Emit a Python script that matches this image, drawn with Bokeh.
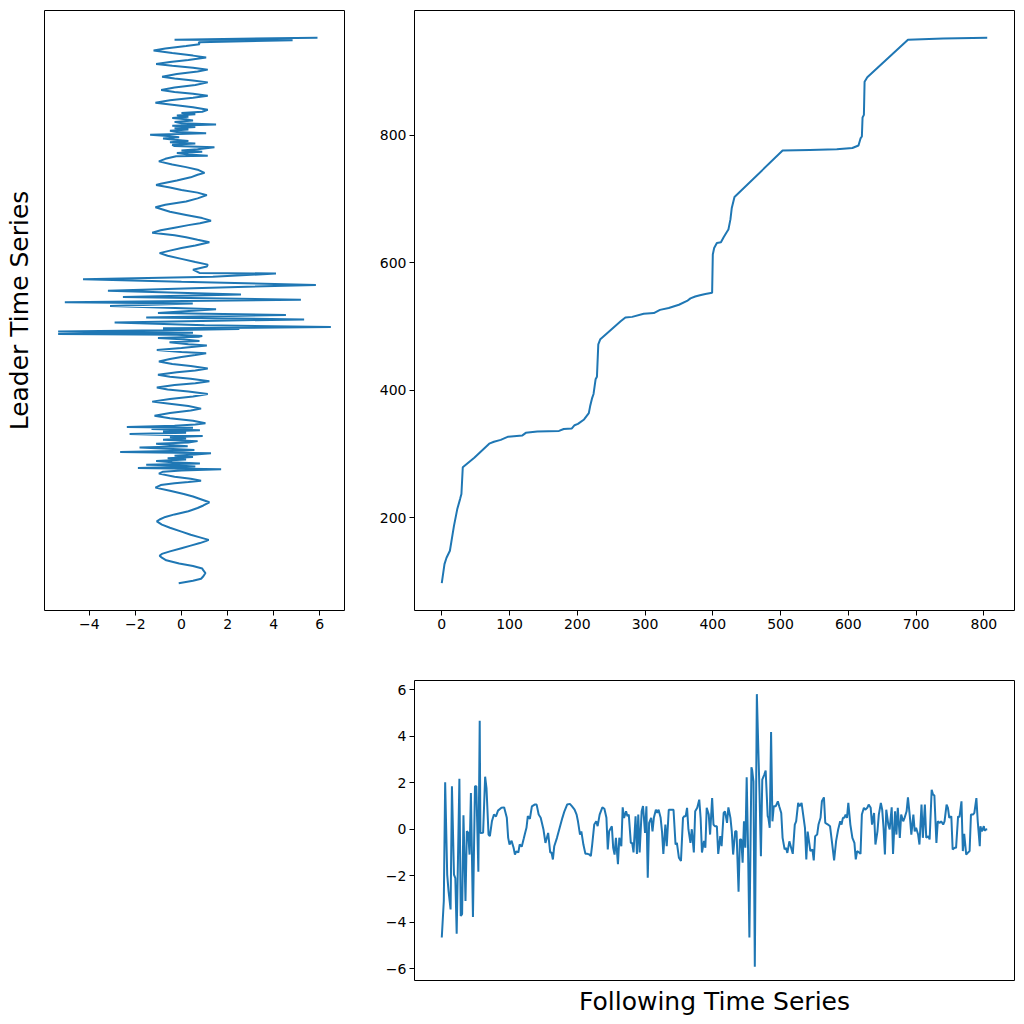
from bokeh.plotting import figure
from bokeh.layouts import column, row
from bokeh.models import Range1d, Spacer
from bokeh.embed import file_html
from bokeh.resources import INLINE

# ---- data ----
# following time series: (index, value)
following = [
(0,-4.66),(3,-3.09),(5,2.02),(8,-1.95),(10,-2.66),(13,-3.45),(15,1.85),(18,-1.95),(20,-2.1),(22,-4.49),
(26,2.17),(28,-3.73),(30,-3.65),(32,0.6),(35,-3.09),(37,-0.09),(39,-0.15),(41,-1.09),(43,1.56),(46,-3.78),
(49,1.85),(51,1.85),(54,-1.83),(56,4.66),(57,-0.16),(61,-0.15),(64,2.26),(66,1.77),(69,-0.23),(71,-0.3),
(74,0.34),(77,0.63),(80,0.55),(83,0.8),(88,0.92),(92,0.94),(96,0.49),(98,-0.37),(100,-0.66),(103,-0.5),
(106,-0.8),(108,-1.09),(110,-0.95),(113,-1.0),(115,-0.65),(118,-0.75),(121,-0.4),(123,-0.16),(125,0.06),(127,0.56),
(130,0.45),(133,0.98),(137,1.06),(140,1.06),(143,0.63),(146,0.49),(150,0.0),(153,-0.59),(157,-0.16),(160,-1.0),
(162,-1.0),(164,-1.3),(166,-0.73),(170,-0.37),(174,0.06),(178,0.49),(181,0.77),(185,1.06),(189,1.09),(192,0.99),
(196,0.84),(199,0.63),(201,0.34),(204,-0.23),(206,-0.09),(209,-0.66),(212,-1.06),(215,-1.06),(218,-1.09),(220,-1.16),
(222,-0.66),(225,0.2),(228,0.34),(230,0.13),(233,0.63),(237,0.94),(240,0.88),(243,0.49),(245,-0.87),(247,-0.09),
(251,0.13),(253,-0.8),(255,-1.09),(257,-0.37),(260,-1.5),(262,-0.37),(265,-0.73),(267,0.94),(269,0.49),(272,0.77),
(274,0.56),(276,0.63),(279,-0.59),(281,-0.59),(283,-1.0),(286,0.56),(288,-1.06),(290,0.63),(292,-1.0),(295,0.77),
(297,1.0),(300,-0.16),(302,0.99),(304,-2.09),(306,0.27),(309,0.49),(311,-0.09),(313,0.49),(316,0.84),(318,0.7),
(320,0.84),(323,0.49),(325,-0.09),(327,-1.06),(330,0.2),(332,-0.73),(335,0.84),(337,0.84),(340,0.84),(342,0.84),
(345,-0.66),(347,-0.59),(350,-1.23),(353,-1.37),(356,0.49),(358,0.56),(360,0.56),(362,0.92),(364,0.0),(367,-0.59),
(369,0.0),(372,-1.0),(374,0.77),(377,0.92),(380,1.27),(382,0.49),(384,-1.0),(387,-0.5),(389,-0.8),(391,0.92),
(394,0.63),(396,-0.23),(399,1.34),(401,0.2),(403,0.13),(406,0.13),(408,-1.06),(411,-0.3),(413,-0.73),(416,0.7),
(418,0.77),(421,0.27),(423,0.94),(426,0.49),(428,-0.09),(430,-1.09),(433,-0.09),(435,-0.09),(438,-2.69),(440,-0.44),
(442,-0.44),(444,-1.44),(446,0.34),(448,-0.8),(450,2.23),(452,-0.8),(454,-4.66),(457,2.66),(458,2.56),(460,2.06),
(462,-5.92),(465,5.81),(469,1.49),(471,-1.16),(473,2.13),(476,2.35),(478,2.52),(481,0.56),(482,0.49),(484,0.06),
(486,4.18),(488,0.34),(490,0.99),(493,0.99),(496,1.2),(498,0.99),(501,0.7),(503,-0.37),(506,-0.87),(508,-0.8),
(510,-1.02),(513,-0.52),(515,-0.73),(518,-1.06),(521,0.2),(523,0.34),(526,1.13),(528,0.99),(531,1.13),(533,0.7),
(536,0.06),(538,-1.3),(540,-0.1),(544,-0.94),(547,-0.87),(549,-1.34),(551,-0.3),(554,-0.23),(556,0.2),(559,0.49),
(561,1.2),(564,1.37),(566,0.27),(570,0.2),(573,0.13),(576,-0.59),(579,-1.34),(582,-0.5),(585,-0.01),(588,0.34),
(590,0.2),(592,0.49),(594,0.49),(596,0.63),(598,0.49),(600,1.13),(603,0.2),(606,-0.37),(609,-0.59),(611,-1.3),
(613,-0.94),(616,-1.0),(618,-1.06),(620,0.63),(623,0.92),(625,0.84),(628,0.92),(630,1.06),(633,0.92),(635,0.2),
(638,0.7),(640,-0.66),(643,-0.09),(645,0.63),(648,1.13),(650,0.84),(652,0.06),(654,-1.09),(656,0.84),(659,0.2),
(661,-0.01),(664,0.94),(666,-1.06),(669,0.77),(671,-0.23),(673,0.92),(676,-0.37),(678,0.63),(681,0.34),(683,0.49),
(686,0.77),(688,1.37),(691,0.49),(693,-0.23),(696,0.63),(698,-0.09),(700,0.06),(703,-0.23),(705,-0.66),(708,1.06),
(710,-0.37),(713,1.06),(715,-0.37),(718,-0.3),(720,-0.44),(723,1.7),(725,1.49),(727,1.46),(730,-0.59),(732,0.34),
(735,0.27),(737,0.34),(740,0.2),(742,0.34),(745,1.06),(747,0.92),(749,0.49),(752,0.56),(754,-0.87),(757,-0.8),
(759,-0.8),(762,0.56),(764,0.52),(767,1.2),(769,-0.94),(771,-0.2),(774,-1.09),(776,-1.02),(779,-0.94),(781,0.63),
(784,0.63),(786,0.7),(789,1.34),(791,0.34),(794,-0.73),(795,0.13),(797,-0.09),(800,0.13),(801,-0.06),(803,-0.01),
(805,0.0)]

# leader time series: (index, value)
leader = [
(97,-0.12),(101,0.5),(104,0.85),(108,0.95),(113,1.04),(117,0.95),(120,0.9),(124,0.5),(128,-0.1),(133,-0.66),
(137,-0.85),(140,-0.95),(143,-0.85),(147,-0.5),(152,0.0),(156,0.4),(160,0.8),(163,1.05),(165,1.18),(169,0.8),
(173,0.4),(178,0.0),(184,-0.5),(189,-0.85),(194,-1.07),(197,-0.95),(201,-0.7),(205,-0.3),(210,0.3),(215,0.7),
(219,0.95),(224,1.21),(228,0.9),(233,0.5),(237,0.1),(242,-0.5),(247,-1.13),(251,-0.9),(254,-0.3),(256,0.3),
(258,0.85),(261,0.4),(264,-0.3),(269,-0.98),(272,-0.8),(274,0.0),(276,1.72),(278,-1.89),(280,0.6),(282,-0.4),
(283,-1.53),(285,0.8),(287,-0.4),(289,-1.1),(291,0.2),(293,-0.6),(295,0.5),(297,-0.3),(299,0.6),(301,1.28),
(303,-2.66),(305,0.1),(306,0.56),(308,-0.6),(310,-1.82),(312,0.27),(314,-0.5),(316,-1.1),(318,0.3),(320,0.7),
(322,-0.8),(324,0.2),(326,-0.5),(328,0.92),(331,-2.25),(333,0.2),(335,-0.8),(337,0.8),(339,-1.3),(341,0.5),
(342,-2.37),(344,-0.3),(346,0.6),(348,1.04),(352,0.5),(356,-0.5),(360,-1.17),(364,-0.5),(368,0.4),(371,0.85),
(375,0.3),(379,-0.6),(382,-1.27),(386,-0.5),(390,0.5),(394,1.14),(398,0.3),(401,-0.6),(404,-1.07),(408,-0.3),
(411,0.6),(414,1.21),(418,0.4),(421,-0.5),(424,-1.02),(428,-0.2),(431,0.6),(434,1.14),(438,0.4),(441,-0.4),
(445,-0.98),(449,-0.5),(452,0.0),(455,0.6),(458,1.07),(460,0.0),(463,-1.07),(466,0.0),(470,1.1),(472,0.3),
(475,-0.52),(477,0.78),(480,0.0),(482,-1.02),(484,0.78),(485,0.9),(487,-0.2),(488,-5.35),(490,0.5),(492,-5.35),
(494,-0.8),(496,2.51),(497,-0.8),(499,6.48),(502,1.0),(506,-2.9),(509,1.5),(511,5.32),(514,-1.53),(518,4.53),
(521,-1.02),(527,1.5),(532,-3.1),(536,0.49),(538,-5.06),(542,5.18),(546,-2.54),(550,2.58),(556,-3.19),(560,0.5),
(565,5.83),(570,0.0),(574,-4.27),(578,1.36),(583,4.1),(584,0.78),(589,0.5),(594,1.1),(597,1.14),(601,0.6),
(606,0.0),(611,-0.6),(615,-0.95),(619,-0.5),(623,0.0),(627,0.6),(632,1.21),(636,0.7),(640,0.2),(643,-0.3),
(647,-1.27),(651,-0.9),(655,-0.3),(659,0.3),(662,0.8),(666,1.28),(670,0.9),(675,0.2),(680,-0.5),(687,-1.13),
(691,-0.7),(696,0.2),(701,0.7),(706,1.1),(710,0.7),(714,0.0),(718,-0.5),(722,-1.1),(724,-0.9),(729,-0.2),
(734,0.4),(738,0.7),(741,1.0),(746,0.7),(750,0.2),(754,-0.4),(759,-0.98),(763,-0.7),(767,-0.23),(768,1.14),
(770,0.3),(772,-0.2),(774,0.9),(776,0.0),(778,0.7),(781,1.43),(783,-0.3),(785,-0.4),(787,0.6),(789,-0.5),
(791,0.3),(793,-0.3),(795,-0.8),(797,-0.1),(799,-0.6),(801,-1.36),(803,1.07),(805,-0.2),(807,-0.5),(809,0.3),
(811,-0.3),(813,0.6),(815,-0.4),(817,1.5),(819,0.0),(821,-0.3),(823,0.5),(825,0.2),(827,-0.4),(829,0.3),
(831,-0.2),(833,0.6),(835,0.0),(837,0.9),(840,1.14),(844,0.5),(848,-0.4),(851,-1.13),(855,-0.5),(859,0.5),
(862,1.14),(865,0.5),(868,-0.3),(871,-0.88),(875,-0.3),(879,0.6),(883,1.14),(886,0.5),(889,-0.3),(892,-0.84),
(896,-0.2),(900,0.7),(903,1.14),(906,0.5),(909,-0.4),(912,-1.1),(915,-0.5),(918,0.3),(922,1.07),(925,0.5),
(929,-0.4),(933,-1.21),(936,-0.7),(940,0.2),(943,0.78),(946,0.75),(949,4.82),(950,-0.3),(953,5.9)]

# warping path: (following index, leader index)
path = [
(0,97),(4,127),(7,137),(12,148),(16,174),(18,187),(23,214),(27,229),(29,237),(31,279),
(48,294),(70,316),(77,319),(87,322),(98,327),(119,329),(124,333),(141,335),(173,336),(180,339),
(192,340),(196,345),(201,347),(210,354),(217,364),(219,375),(222,388),(224,394),(227,417),(229,421),
(231,472),(234,480),(264,508),(271,514),(281,515),(298,520),(313,521),(322,526),(335,529),(350,534),
(362,540),(367,544),(374,547),(381,549),(389,551),(399,553),(400,613),(402,623),(406,631),(412,632),
(416,640),(420,647),(423,652),(426,668),(428,686),(432,703),(503,776),(543,777),(583,778),(606,780),
(615,784),(618,795),(620,798),(621,828),(623,832),(624,884),(628,891),(688,950),(740,952),(805,953)]

x_ticks_main = [0, 100, 200, 300, 400, 500, 600, 700, 800]
y_ticks_main = [200, 400, 600, 800]
x_ticks_leader = [-4, -2, 0, 2, 4, 6]
y_ticks_follow = [-6, -4, -2, 0, 2, 4, 6]

follow_x = [a for a, b in following]
follow_y = [b for a, b in following]
leader_i = [a for a, b in leader]
leader_v = [b for a, b in leader]
path_f = [a for a, b in path]
path_l = [b for a, b in path]

BLUE = "#1f77b4"
FONT = "DejaVu Sans"


def padded(vals):
    lo, hi = min(vals), max(vals)
    m = 0.05 * (hi - lo)
    return Range1d(lo - m, hi + m)


x_shared = padded(path_f + follow_x)
y_shared = padded(path_l + leader_i)
x_leader = padded(leader_v)
y_follow = padded(follow_y)


def style(p):
    p.grid.visible = False
    p.outline_line_color = "black"
    p.outline_line_width = 1
    p.background_fill_color = "white"
    p.border_fill_color = "white"
    for ax in p.axis:
        ax.axis_line_color = None
        ax.major_tick_line_color = "black"
        ax.major_tick_out = 5
        ax.major_tick_in = 0
        ax.minor_tick_line_color = None
        ax.major_label_text_font = FONT
        ax.major_label_text_font_size = "14px"
        ax.major_label_text_color = "black"
        ax.major_label_standoff = 3
        ax.axis_label_text_font = FONT
        ax.axis_label_text_font_size = "25px"
        ax.axis_label_text_font_style = "normal"
        ax.axis_label_text_color = "black"


# leader panel (left)
p1 = figure(width=374, height=650, x_range=x_leader, y_range=y_shared,
            output_backend="svg", toolbar_location=None,
            min_border_left=44, min_border_right=30, min_border_top=10, min_border_bottom=40)
p1.line(leader_v, leader_i, line_color=BLUE, line_width=2)
style(p1)
p1.xaxis.ticker = x_ticks_leader
p1.yaxis.ticker = []
p1.yaxis.axis_label = "Leader Time Series"
p1.yaxis.axis_label_standoff = 11

# warping path (main)
p2 = figure(width=648, height=650, x_range=x_shared, y_range=y_shared,
            output_backend="svg", toolbar_location=None,
            min_border_left=40, min_border_right=8, min_border_top=10, min_border_bottom=40)
p2.line(path_f, path_l, line_color=BLUE, line_width=2)
style(p2)
p2.xaxis.ticker = x_ticks_main
p2.yaxis.ticker = y_ticks_main

# following panel (bottom)
p3 = figure(width=648, height=370, x_range=x_shared, y_range=y_follow,
            output_backend="svg", toolbar_location=None,
            min_border_left=40, min_border_right=8, min_border_top=30, min_border_bottom=40)
p3.line(follow_x, follow_y, line_color=BLUE, line_width=2)
style(p3)
p3.yaxis.ticker = y_ticks_follow
p3.xaxis.ticker = []
p3.xaxis.axis_label = "Following Time Series"
p3.xaxis.axis_label_standoff = 6

layout = column(row(p1, p2), row(Spacer(width=374, height=370), p3))

open("out.html", "w").write(file_html(layout, INLINE))
